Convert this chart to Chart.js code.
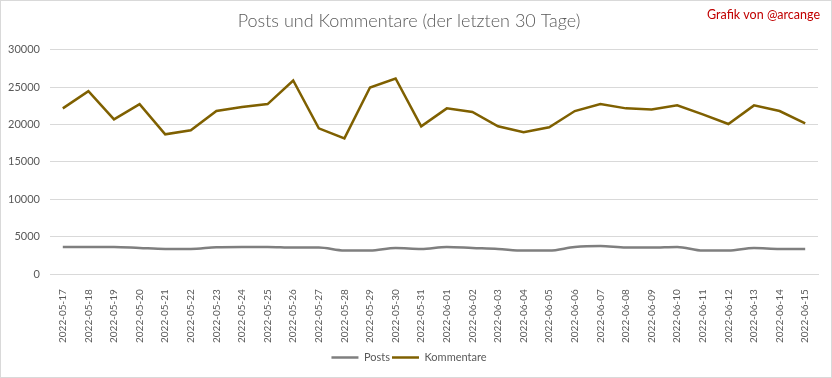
<!DOCTYPE html>
<html>
<head>
<meta charset="utf-8">
<script src="https://cdn.jsdelivr.net/npm/chart.js@4/dist/chart.umd.min.js"></script>
<style>
html,body{margin:0;padding:0;background:#fff;}
#wrap{width:832px;height:378px;position:relative;}
</style>
</head>
<body>
<div id="wrap"><canvas id="c" width="832" height="378"></canvas></div>
<script>
const dates = ["2022-05-17","2022-05-18","2022-05-19","2022-05-20","2022-05-21","2022-05-22","2022-05-23","2022-05-24","2022-05-25","2022-05-26","2022-05-27","2022-05-28","2022-05-29","2022-05-30","2022-05-31","2022-06-01","2022-06-02","2022-06-03","2022-06-04","2022-06-05","2022-06-06","2022-06-07","2022-06-08","2022-06-09","2022-06-10","2022-06-11","2022-06-12","2022-06-13","2022-06-14","2022-06-15"];
const posts = [3640,3640,3640,3500,3370,3370,3600,3640,3640,3550,3550,3150,3150,3500,3370,3640,3500,3370,3150,3150,3640,3770,3550,3550,3640,3150,3150,3500,3370,3370];
const kommentare = [22150,24450,20680,22720,18680,19220,21790,22320,22720,25870,19480,18150,24940,26140,19750,22150,21660,19750,18950,19620,21790,22720,22150,22010,22550,21350,20060,22550,21790,20150];
const yTicks = [0,5000,10000,15000,20000,25000,30000];

const FONT = "Lato, 'Open Sans', sans-serif";

const extras = {
  id: 'extras',
  beforeDraw(chart){
    const ctx = chart.ctx;
    ctx.save();
    ctx.fillStyle = '#fff';
    ctx.fillRect(0,0,chart.width,chart.height);
    ctx.restore();
  },
  afterDraw(chart){
    const ctx = chart.ctx;
    ctx.save();
    ctx.strokeStyle = '#d9d9d9';
    ctx.lineWidth = 1;
    ctx.strokeRect(0.5,0.5,chart.width-1,chart.height-1);
    ctx.fillStyle = '#c00000';
    ctx.font = "12.5px " + FONT;
    ctx.textAlign = 'right';
    ctx.textBaseline = 'middle';
    ctx.fillText('Grafik von @arcange', 820, 15);
    ctx.restore();
  }
};

new Chart(document.getElementById('c'), {
  type: 'line',
  data: {
    labels: dates,
    datasets: [
      {label: 'Posts', data: posts, borderColor: '#7f7f7f', backgroundColor: '#7f7f7f', borderWidth: 2.5, pointRadius: 0, tension: 0.3, cubicInterpolationMode: 'monotone'},
      {label: 'Kommentare', data: kommentare, borderColor: '#7f6000', backgroundColor: '#7f6000', borderWidth: 2.5, pointRadius: 0, tension: 0}
    ]
  },
  options: {
    responsive: false,
    animation: false,
    layout: {padding: {left: 0, right: 14, top: 0, bottom: 5}},
    plugins: {
      title: {display: true, text: 'Posts und Kommentare (der letzten 30 Tage)', color: '#595959', font: {family: FONT, size: 18, weight: '300'}, padding: {top: 10, bottom: 18}},
      legend: {position: 'bottom', labels: {usePointStyle: true, pointStyle: 'line', pointStyleWidth: 27, boxHeight: 10, color: '#595959', font: {family: FONT, size: 11}, padding: 2}},
      tooltip: {enabled: false}
    },
    scales: {
      x: {
        offset: true,
        grid: {display: false},
        border: {display: true, color: '#d9d9d9'},
        ticks: {color: '#595959', font: {family: FONT, size: 10}, maxRotation: 90, minRotation: 90, autoSkip: false, padding: 7}
      },
      y: {
        min: 0, max: 30000,
        afterBuildTicks(axis){ axis.ticks = yTicks.map(v => ({value: v})); },
        afterFit(axis){ axis.width = 50; },
        grid: {color: '#d9d9d9', drawTicks: false},
        border: {display: false},
        ticks: {color: '#595959', font: {family: FONT, size: 11}, padding: 10, callback: v => String(v)}
      }
    }
  },
  plugins: [extras]
});
</script>
</body>
</html>
